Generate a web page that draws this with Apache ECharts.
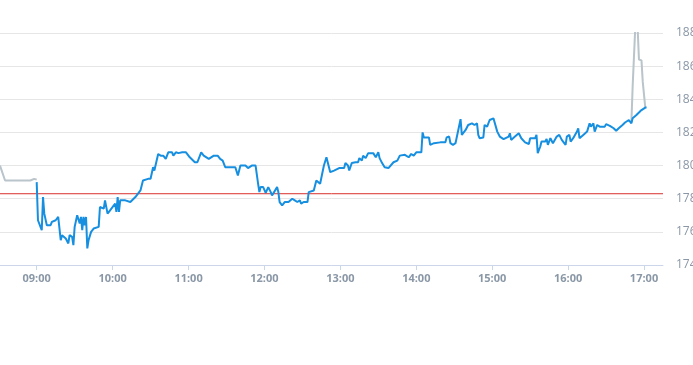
<!DOCTYPE html>
<html>
<head>
<meta charset="utf-8">
<script src="https://cdn.jsdelivr.net/npm/echarts@6/dist/echarts.min.js"></script>
<style>
html,body{margin:0;padding:0;background:#fff;}
#chart{width:693px;height:365px;}
</style>
</head>
<body>
<div id="chart"></div>
<script>
var blueTimes = ["09:00","09:01","09:02","09:04","09:05","09:06","09:08","09:11","09:12","09:15","09:17","09:18","09:19","09:20","09:23","09:25","09:26","09:28","09:29","09:30","09:32","09:34","09:35","09:36","09:37","09:38","09:39","09:40","09:41","09:43","09:45","09:46","09:49","09:50","09:53","09:54","09:56","09:58","10:02","10:03","10:04","10:05","10:06","10:10","10:14","10:15","10:18","10:22","10:24","10:28","10:30","10:32","10:33","10:36","10:38","10:40","10:42","10:44","10:47","10:48","10:50","10:52","10:55","10:58","11:01","11:05","11:07","11:10","11:12","11:16","11:20","11:23","11:25","11:27","11:29","11:33","11:37","11:39","11:41","11:45","11:47","11:50","11:53","11:55","11:56","11:57","11:59","12:01","12:03","12:05","12:06","12:10","12:11","12:12","12:14","12:16","12:19","12:22","12:24","12:26","12:28","12:29","12:31","12:34","12:35","12:39","12:41","12:44","12:47","12:49","12:52","12:55","12:59","13:03","13:04","13:06","13:07","13:09","13:12","13:14","13:15","13:17","13:18","13:20","13:22","13:26","13:28","13:30","13:31","13:33","13:35","13:38","13:39","13:42","13:45","13:47","13:51","13:54","13:55","13:56","13:58","14:00","14:04","14:05","14:06","14:10","14:11","14:14","14:19","14:23","14:24","14:26","14:27","14:29","14:31","14:35","14:36","14:39","14:41","14:44","14:46","14:48","14:49","14:50","14:53","14:54","14:56","14:58","15:01","15:02","15:04","15:06","15:09","15:13","15:14","15:15","15:18","15:21","15:23","15:26","15:29","15:30","15:34","15:35","15:36","15:38","15:39","15:40","15:42","15:43","15:44","15:46","15:48","15:51","15:53","15:55","15:58","15:59","16:01","16:02","16:04","16:07","16:08","16:09","16:12","16:15","16:17","16:18","16:20","16:21","16:23","16:25","16:26","16:29","16:30","16:33","16:36","16:38","16:40","16:41","16:43","16:45","16:48","16:49","16:50","16:51","16:54","16:58","17:01","17:02"];
var blueValues = [179.0,176.7,176.8,176.1,178.1,177.1,176.4,176.4,176.6,176.7,176.9,176.9,175.5,175.8,175.6,175.3,175.8,175.7,175.2,176.3,177.0,176.5,176.9,176.1,176.9,176.4,176.9,175.0,175.5,176.0,176.2,176.1,176.3,177.5,177.4,177.9,177.1,177.3,177.7,177.2,178.1,177.2,177.9,177.9,177.8,177.9,178.1,178.5,179.1,179.2,179.2,179.9,179.7,180.7,180.6,180.6,180.4,180.8,180.8,180.6,180.8,180.75,180.8,180.8,180.5,180.2,180.2,180.8,180.6,180.4,180.6,180.6,180.4,180.3,179.9,179.9,179.9,179.4,180.0,180.0,179.85,180.0,180.0,178.9,178.4,178.7,178.7,178.35,178.7,178.4,178.2,178.7,178.4,177.8,177.6,177.8,177.8,178.0,177.9,177.8,177.9,177.7,177.8,177.8,178.4,178.5,179.1,178.9,180.0,180.5,179.6,179.7,179.85,179.85,180.15,180.0,179.7,180.15,180.2,180.2,180.45,180.3,180.6,180.45,180.75,180.75,180.5,180.8,180.45,180.15,179.9,179.85,179.9,180.2,180.3,180.6,180.65,180.5,180.45,180.7,180.6,180.8,180.8,182.0,181.7,181.7,181.25,181.35,181.4,181.4,181.7,181.75,181.35,181.25,181.35,182.8,181.85,182.15,182.45,182.55,182.45,182.55,181.85,181.65,181.7,182.45,182.35,182.75,182.85,182.8,182.05,181.75,181.6,181.75,181.95,181.55,181.75,181.95,181.65,181.4,181.3,181.65,181.65,181.85,180.75,181.15,181.45,181.55,181.45,181.6,181.25,181.65,181.35,181.75,181.85,181.55,181.25,181.75,181.85,181.45,181.65,182.05,182.25,181.65,181.85,182.05,182.55,182.35,182.55,182.05,182.45,182.35,182.45,182.35,182.5,182.4,182.25,182.1,182.25,182.15,182.45,182.6,182.75,182.75,182.55,182.85,183.05,183.35,183.5,183.5];
var grayTimes = ["08:31","08:35","08:55","08:58","09:00",null,"16:50","16:51","16:52","16:53","16:55","16:56","16:58","16:59","17:01"];
var grayValues = [180.0,179.1,179.1,179.2,179.15,null,182.6,184.75,184.8,188.2,188.2,186.4,186.35,185.05,183.5];
var refValue = 178.3;
var yTicks = [174,176,178,180,182,184,186,188];
var axisStart = "08:31";
var axisEnd = "17:15";

function toMs(s){
  var p = s.split(":");
  return new Date(2024,0,2,+p[0],+p[1]).getTime();
}
var grayData = grayTimes.map(function(s,i){ return s===null ? '-' : [toMs(s), grayValues[i]]; });
var blueData = blueTimes.map(function(s,i){ return [toMs(s), blueValues[i]]; });
var refData = [[toMs(axisStart), refValue],[toMs(axisEnd), refValue]];

var chart = echarts.init(document.getElementById('chart'));
chart.setOption({
  animation:false,
  grid:{left:0,right:30,top:33,bottom:100,containLabel:false,outerBoundsMode:'none'},
  xAxis:{
    type:'time',
    min:toMs(axisStart), max:toMs(axisEnd),
    minInterval:3600000, maxInterval:3600000,
    axisLine:{lineStyle:{color:'#ccd6eb',width:1}},
    axisTick:{show:true,length:5,lineStyle:{color:'#ccd6eb'}},
    splitLine:{show:false},
    axisLabel:{
      color:'#8a97a6',fontSize:11,fontWeight:'bold',margin:8,
      fontFamily:'Open Sans, sans-serif',
      formatter:function(v){var d=new Date(v);var h=d.getHours(),m=d.getMinutes();return (h<10?'0':'')+h+':'+(m<10?'0':'')+m;}
    }
  },
  yAxis:{
    type:'value',position:'right',
    min:yTicks[0],max:yTicks[yTicks.length-1],interval:2,
    axisLine:{show:false},axisTick:{show:false},
    splitLine:{lineStyle:{color:'#e6e6e6',width:1}},
    axisLabel:{color:'#8a97a6',fontSize:12,margin:13,fontFamily:'Open Sans, sans-serif'}
  },
  series:[
    {type:'line',data:refData,showSymbol:false,symbol:'none',silent:true,
     lineStyle:{color:'#d9302c',width:1},z:2},
    {type:'line',data:grayData,showSymbol:false,symbol:'none',connectNulls:false,
     lineStyle:{color:'#b9c4cb',width:2},z:1},
    {type:'line',data:blueData,showSymbol:false,symbol:'none',
     lineStyle:{color:'#168fe0',width:2},z:3}
  ]
});
</script>
</body>
</html>
